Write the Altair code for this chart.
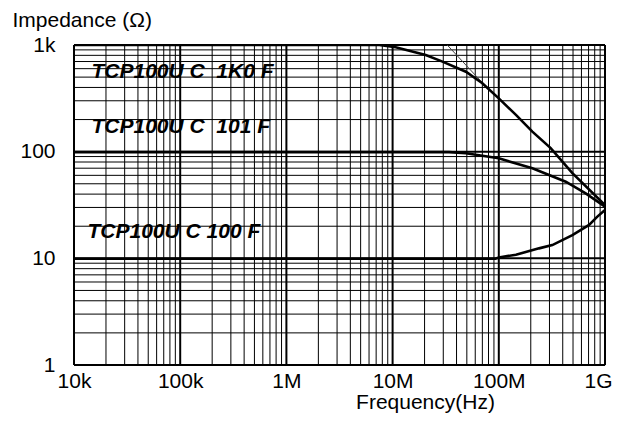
import altair as alt
import pandas as pd

# ---- data ----
f_1k0 = [1e4, 7.5e6, 10.7e6, 20.5e6, 29.5e6, 49e6, 70e6, 100e6, 145e6, 207e6, 308e6, 493e6, 1e9]
z_1k0 = [1000, 1000, 951, 806, 698, 562, 438, 316, 221, 154, 108, 62.8, 31.6]

f_101 = [1e4, 34e6, 49e6, 100e6, 207e6, 427e6, 658e6, 1e9]
z_101 = [99, 99, 96.6, 86.7, 69.8, 52.3, 40.7, 30.5]

f_100 = [1e4, 93e6, 100e6, 145e6, 239e6, 319e6, 493e6, 708e6, 847e6, 1e9]
z_100 = [9.9, 9.9, 10.2, 10.8, 12.4, 13.3, 16.5, 20.6, 24.6, 28.4]

f_asym = [32.7e6, 81e6]
z_asym = [1000, 379]

label_text = ["TCP100U C\u00a0 1K0 F", "TCP100U C\u00a0 101 F", "TCP100U C 100 F"]
label_f = [14.6e3, 14.6e3, 13.4e3]
label_z = [558, 172, 17.7]

x_major = [1e4, 1e5, 1e6, 1e7, 1e8, 1e9]
x_labels = ["10k", "100k", "1M", "10M", "100M", "1G"]
y_major = [1, 10, 100, 1000]
y_labels = ["1", "10", "100", "1k"]
mult = [2, 3, 4, 5, 6, 7, 8, 9]
x_minor = [m * d for d in x_major[:-1] for m in mult]
y_minor = [m * d for d in y_major[:-1] for m in mult]

W, H = 531, 320
FONT = "Liberation Sans"
FS = 21

xs = alt.Scale(type="log", domain=[1e4, 1e9], nice=False)
ys = alt.Scale(type="log", domain=[1, 1000], nice=False)

def label_expr(vals, labs):
    parts = [f"abs(datum.value-{v})<{v*1e-6} ? '{l}'" for v, l in zip(vals, labs)]
    return " : ".join(parts) + " : ''"

curves = pd.concat([
    pd.DataFrame({"f": f_1k0, "z": z_1k0, "s": "1K0"}),
    pd.DataFrame({"f": f_101, "z": z_101, "s": "101"}),
    pd.DataFrame({"f": f_100, "z": z_100, "s": "100"}),
])

last_test = "datum.value > 5e8"
vminor = alt.Chart(pd.DataFrame({"f": x_minor})).mark_rule(color="black", strokeWidth=1).encode(
    x=alt.X("f:Q", scale=xs,
            axis=alt.Axis(values=x_major, labelExpr=label_expr(x_major, x_labels), grid=False, ticks=False,
                          domain=False, labelFont=FONT, labelFontSize=FS, labelColor="black", labelPadding=5,
                          labelAlign={"condition": {"test": last_test, "value": "right"}, "value": "center"},
                          labelOffset={"condition": {"test": last_test, "value": 7}, "value": 0},
                          title="Frequency(Hz)", titleFont=FONT, titleFontSize=FS, titleFontWeight="normal",
                          titleColor="black", titleAlign="center", titleBaseline="alphabetic",
                          titleX=351, titleY=43, labelFlush=False, labelOverlap=False, labelBound=False))
)
vmajor = alt.Chart(pd.DataFrame({"f": x_major})).mark_rule(color="black", strokeWidth=2).encode(x=alt.X("f:Q", scale=xs))
hminor = alt.Chart(pd.DataFrame({"z": y_minor})).mark_rule(color="black", strokeWidth=1).encode(
    y=alt.Y("z:Q", scale=ys,
            axis=alt.Axis(values=y_major, labelExpr=label_expr(y_major, y_labels), grid=False, ticks=False,
                          domain=False, labelFont=FONT, labelFontSize=FS, labelColor="black", labelPadding=19,
                          labelAlign="right", labelBaseline="middle",
                          title="Impedance (Ω)", titleFont=FONT, titleFontSize=FS, titleFontWeight="normal",
                          titleColor="black", titleAngle=0, titleAlign="left", titleBaseline="alphabetic",
                          titleX=-62, titleY=-19, labelOverlap=False, labelFlush=False))
)
hmajor = alt.Chart(pd.DataFrame({"z": y_major})).mark_rule(color="black", strokeWidth=2).encode(y=alt.Y("z:Q", scale=ys))

lines = alt.Chart(curves).mark_line(color="black", strokeWidth=2.6, clip=True).encode(
    x=alt.X("f:Q", scale=xs), y=alt.Y("z:Q", scale=ys), detail="s:N"
)
asym = alt.Chart(pd.DataFrame({"f": f_asym, "z": z_asym})).mark_line(color="#444444", strokeWidth=1).encode(
    x=alt.X("f:Q", scale=xs), y=alt.Y("z:Q", scale=ys)
)
labels = alt.Chart(pd.DataFrame({"t": label_text, "f": label_f, "z": label_z})).mark_text(
    font=FONT, fontSize=21, fontWeight="bold", fontStyle="italic", align="left", baseline="middle", color="black"
).encode(x=alt.X("f:Q", scale=xs), y=alt.Y("z:Q", scale=ys), text="t:N")

chart = alt.layer(vminor, vmajor, hminor, hmajor, asym, lines, labels).properties(
    width=W, height=H,
    autosize=alt.AutoSizeParams(type="none"),
    padding={"left": 66, "top": 37, "right": 8, "bottom": 48},
).configure_view(stroke="black", strokeWidth=3).configure(background="white")

chart.save("out.html", embed_options={"renderer": "svg", "actions": False})
